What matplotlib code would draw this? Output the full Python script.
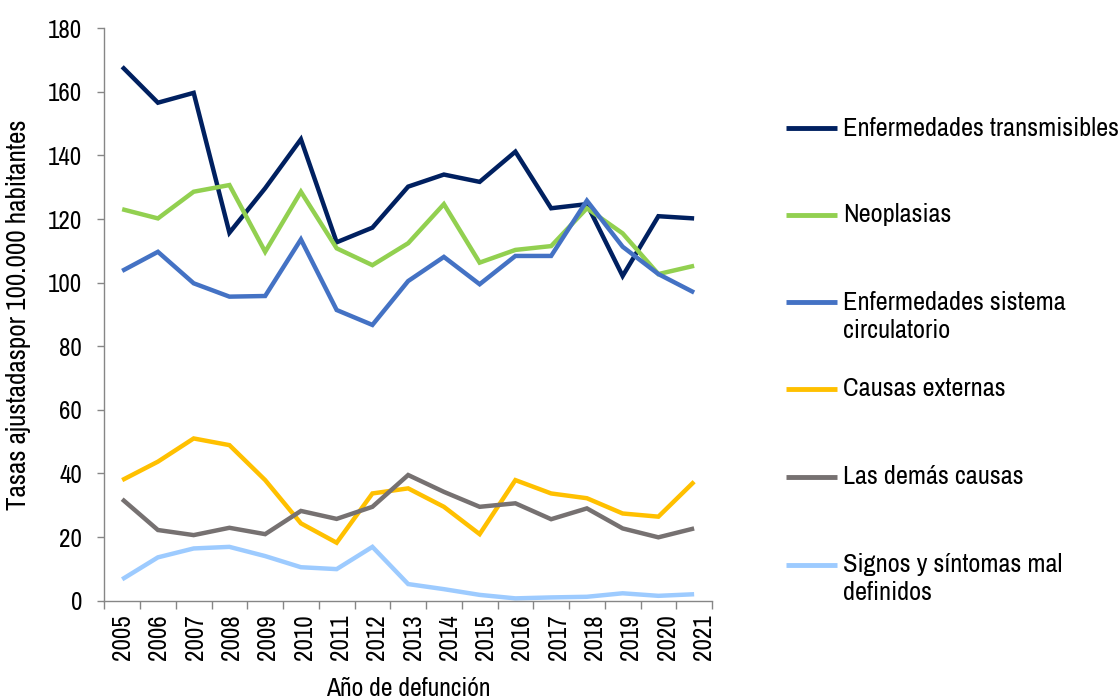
import matplotlib
matplotlib.use("Agg")
import matplotlib.pyplot as plt
from matplotlib.lines import Line2D
import numpy as np

plt.rcParams['font.family'] = ['Liberation Sans Narrow', 'Archivo Narrow', 'DejaVu Sans']

years = [str(y) for y in range(2005, 2022)]

transmisibles = [167.9, 156.6, 159.7, 115.7, 129.7, 145.1, 112.7, 117.3, 130.2, 134.0,
                 131.7, 141.2, 123.4, 124.7, 102.1, 120.9, 120.2]
neoplasias = [123.1, 120.2, 128.6, 130.7, 109.7, 128.6, 110.8, 105.5, 112.4, 124.7,
              106.3, 110.3, 111.5, 123.4, 115.5, 102.7, 105.3]
circulatorio = [103.7, 109.7, 99.8, 95.6, 95.8, 113.6, 91.4, 86.7, 100.5, 108.1,
                99.5, 108.4, 108.4, 125.8, 111.3, 102.7, 96.9]
externas = [37.9, 43.7, 51.0, 48.9, 37.9, 24.3, 18.2, 33.7, 35.3, 29.5,
            20.9, 37.9, 33.7, 32.2, 27.4, 26.4, 37.4]
demas = [31.9, 22.2, 20.6, 22.9, 20.9, 28.2, 25.7, 29.5, 39.5, 34.2,
         29.5, 30.6, 25.6, 29.0, 22.7, 19.9, 22.7]
signos = [6.7, 13.6, 16.4, 16.9, 14.0, 10.5, 9.9, 16.9, 5.2, 3.6,
          1.8, 0.7, 1.0, 1.2, 2.3, 1.5, 2.0]

series_labels = ["Enfermedades transmisibles", "Neoplasias",
                 "Enfermedades sistema\ncirculatorio", "Causas externas",
                 "Las demás causas", "Signos y síntomas mal\ndefinidos"]
series_values = [transmisibles, neoplasias, circulatorio, externas, demas, signos]
colors = ["#002060", "#92D050", "#4472C4", "#FFC000", "#767171", "#9DCBFF"]

W, H = 1118, 700
fig = plt.figure(figsize=(W / 100, H / 100), dpi=100)
ax = fig.add_axes([104.3 / W, 1 - 600.6 / H, (712 - 104.3) / W, (600.6 - 28.3) / H])

x = np.arange(len(years))
for vals, c in zip(series_values, colors):
    ax.plot(x, vals, color=c, lw=3.2, solid_joinstyle='miter', solid_capstyle='butt')

ax.set_xlim(-0.5, len(years) - 0.5)
ax.set_ylim(0, 180)
ax.set_yticks(np.arange(0, 181, 20))
ax.tick_params(axis='y', labelsize=18, length=5, width=1, color='#868686', pad=11)

# category boundaries as ticks, labels separately
ax.set_xticks(np.arange(len(years) + 1) - 0.5)
ax.set_xticklabels([])
ax.tick_params(axis='x', which='major', length=6, width=1, color='#868686')
ax.set_xticks(x * 1.0154 + 0.014, minor=True)
ax.set_xticklabels(years, minor=True, rotation=90, fontsize=18)
ax.tick_params(axis='x', which='minor', length=0, pad=10)

for s in ['top', 'right']:
    ax.spines[s].set_visible(False)
for s in ['left', 'bottom']:
    ax.spines[s].set_color('#868686')
    ax.spines[s].set_linewidth(1)

ax.set_ylabel("Tasas ajustadaspor 100.000 habitantes", fontsize=19.5)
ax.yaxis.set_label_coords(-0.121, 0.5)
ax.set_xlabel("Año de defunción", fontsize=18.5, va='top')
ax.xaxis.set_label_coords(0.5, -0.134)

# legend drawn manually to mimic Excel layout
row_y = [128, 215, 302, 389, 477, 565]
for lab, c, yy in zip(series_labels, colors, row_y):
    fig.add_artist(Line2D([786 / W, 837 / W], [1 - yy / H, 1 - yy / H], color=c, lw=3.5,
                          solid_capstyle='butt'))
    for k, line in enumerate(lab.split("\n")):
        fig.text(843 / W, 1 - (yy + 28 * k) / H, line, fontsize=19, va='center', ha='left')

fig.savefig("out.png", dpi=100)
